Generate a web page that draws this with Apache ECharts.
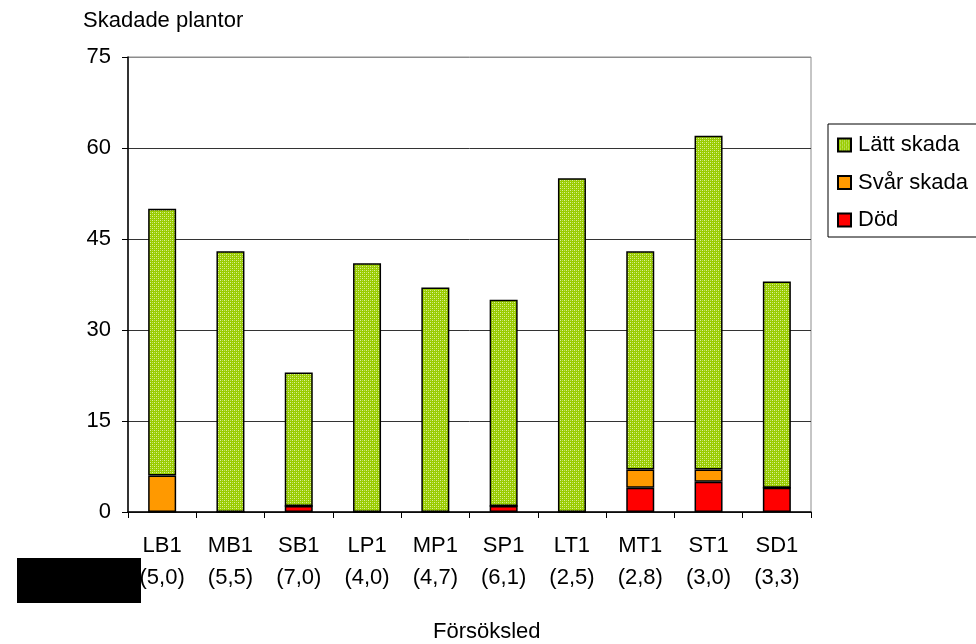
<!DOCTYPE html>
<html>
<head>
<meta charset="utf-8">
<script src="https://cdn.jsdelivr.net/npm/echarts@6/dist/echarts.min.js"></script>
<style>
  html, body { margin: 0; padding: 0; background: #fff; }
  #chart { width: 976px; height: 644px; }
</style>
</head>
<body>
<div id="chart"></div>
<script>
// Försöksled (treatment) and the value shown in brackets beneath each
const categories = ['LB1', 'MB1', 'SB1', 'LP1', 'MP1', 'SP1', 'LT1', 'MT1', 'ST1', 'SD1'];
const subLabels = ['(5,0)', '(5,5)', '(7,0)', '(4,0)', '(4,7)', '(6,1)', '(2,5)', '(2,8)', '(3,0)', '(3,3)'];

// Skadade plantor per category, stacked bottom to top
const dod  = [0, 0, 1, 0, 0, 1, 0, 4, 5, 4];
const svar = [6, 0, 0, 0, 0, 0, 0, 3, 2, 0];
const latt = [44, 43, 22, 41, 37, 34, 55, 36, 55, 34];

const yTicks = [0, 15, 30, 45, 60, 75];

const FONT = '"Liberation Sans", Arial, sans-serif';
const FS = 22;

// small dotted green fill used for the "Lätt skada" segments
function dottedGreen() {
  const c = document.createElement('canvas');
  c.width = 4; c.height = 4;
  const g = c.getContext('2d');
  g.fillStyle = '#99cc00';
  g.fillRect(0, 0, 4, 4);
  g.fillStyle = '#dcefa0';
  g.fillRect(0, 0, 1, 1);
  g.fillRect(2, 2, 1, 1);
  g.fillStyle = '#bfe05a';
  g.fillRect(2, 0, 1, 1);
  g.fillRect(0, 2, 1, 1);
  return c;
}

const chart = echarts.init(document.getElementById('chart'), null, { renderer: 'canvas' });

const barBase = {
  type: 'bar',
  stack: 'total',
  barWidth: 28,
  animation: false,
  emphasis: { disabled: true }
};

chart.setOption({
  backgroundColor: '#ffffff',
  animation: false,
  title: [
    { text: 'Skadade plantor', left: 83, top: 10, padding: 0,
      textStyle: { fontFamily: FONT, fontSize: FS, fontWeight: 'normal', color: '#000' } },
    { text: 'Försöksled', left: 433, top: 621, padding: 0,
      textStyle: { fontFamily: FONT, fontSize: FS, fontWeight: 'normal', color: '#000' } }
  ],
  legend: {
    orient: 'vertical',
    left: 828,
    top: 124,
    padding: [10, 30, 6, 9],
    icon: 'rect',
    itemWidth: 13,
    itemHeight: 13,
    itemGap: 15.5,
    borderColor: '#000',
    borderWidth: 1,
    data: ['Lätt skada', 'Svår skada', 'Död'],
    textStyle: { fontFamily: FONT, fontSize: FS, color: '#000', lineHeight: 22, padding: [0, 0, 0, 2] }
  },
  grid: {
    left: 128, right: 165, top: 57, bottom: 132,
    show: true, borderColor: '#8c8c8c', borderWidth: 1, backgroundColor: 'transparent'
  },
  xAxis: {
    type: 'category',
    data: categories,
    boundaryGap: true,
    axisLine: { lineStyle: { color: '#000', width: 1.5 } },
    axisTick: { show: true, length: 6, lineStyle: { color: '#000' } },
    axisLabel: {
      margin: 18,
      fontFamily: FONT, fontSize: FS, color: '#000', lineHeight: 32,
      formatter: (v, i) => v + '\n' + subLabels[i]
    }
  },
  yAxis: {
    type: 'value',
    min: yTicks[0],
    max: yTicks[yTicks.length - 1],
    interval: 15,
    axisLine: { show: true, lineStyle: { color: '#000', width: 1.5 } },
    axisTick: { show: true, length: 6, lineStyle: { color: '#000' } },
    axisLabel: { margin: 17, fontFamily: FONT, fontSize: FS, color: '#000' },
    splitLine: {
      show: true,
      lineStyle: { color: ['#333', '#333', '#333', '#333', '#333', '#8c8c8c'], width: 1 }
    }
  },
  series: [
    Object.assign({}, barBase, {
      name: 'Död', data: dod,
      itemStyle: { color: '#ff0000', borderColor: '#000', borderWidth: 1.5 }
    }),
    Object.assign({}, barBase, {
      name: 'Svår skada', data: svar,
      itemStyle: { color: '#ff9900', borderColor: '#000', borderWidth: 1.5 }
    }),
    Object.assign({}, barBase, {
      name: 'Lätt skada', data: latt,
      itemStyle: { color: { image: dottedGreen(), repeat: 'repeat' }, borderColor: '#000', borderWidth: 1.5 }
    })
  ],
  graphic: [
    { type: 'rect', left: 17, top: 558, z: 100,
      shape: { width: 124, height: 45 }, style: { fill: '#000' } }
  ]
});
</script>
</body>
</html>
